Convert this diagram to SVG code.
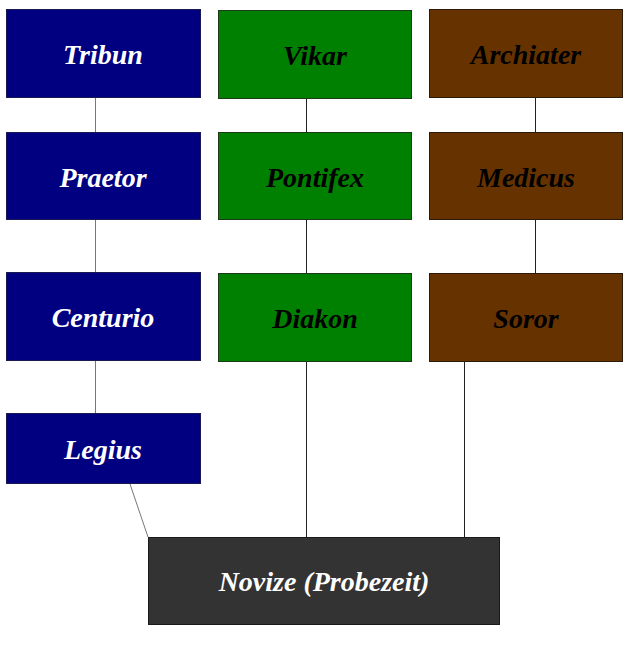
<svg xmlns="http://www.w3.org/2000/svg" width="633" height="649" viewBox="0 0 633 649">
<style>
.blue{fill:#000080;stroke:#1a1a50;stroke-width:1}
.green{fill:#008000;stroke:#1a3a1a;stroke-width:1}
.brown{fill:#663300;stroke:#2a1a0a;stroke-width:1}
.dark{fill:#333333;stroke:#1a1a1a;stroke-width:1}
text{font-family:"Liberation Serif","DejaVu Serif",serif;font-style:italic;font-weight:bold;font-size:28px;text-anchor:middle}
.w{fill:#ffffff}
.k{fill:#000000}
.conn line{stroke:#222;stroke-width:1}
.conn line.g{stroke:#777}
</style>
<rect width="633" height="649" fill="#ffffff"/>
<g id="connectors" class="conn">
<line class="g" x1="95.5" y1="98" x2="95.5" y2="132"/>
<line class="g" x1="95.5" y1="219" x2="95.5" y2="272"/>
<line class="g" x1="95.5" y1="361" x2="95.5" y2="413"/>
<line class="g" x1="130" y1="484" x2="148" y2="537"/>
<line x1="306.5" y1="98" x2="306.5" y2="132"/>
<line x1="306.5" y1="219" x2="306.5" y2="273"/>
<line x1="306.5" y1="361" x2="306.5" y2="537"/>
<line x1="535.5" y1="97" x2="535.5" y2="132"/>
<line x1="535.5" y1="219" x2="535.5" y2="273"/>
<line x1="464.5" y1="361" x2="464.5" y2="537"/>
</g>
<g id="tribun"><rect class="blue" x="6.5" y="9.5" width="194" height="88"/><text class="w" x="103" y="64">Tribun</text></g>
<g id="praetor"><rect class="blue" x="6.5" y="132.5" width="194" height="87"/><text class="w" x="103" y="187">Praetor</text></g>
<g id="centurio"><rect class="blue" x="6.5" y="272.5" width="194" height="88"/><text class="w" x="103" y="327">Centurio</text></g>
<g id="legius"><rect class="blue" x="6.5" y="413.5" width="194" height="70"/><text class="w" x="103" y="459">Legius</text></g>
<g id="vikar"><rect class="green" x="218.5" y="10.5" width="193" height="88"/><text class="k" x="315" y="65">Vikar</text></g>
<g id="pontifex"><rect class="green" x="218.5" y="132.5" width="193" height="87"/><text class="k" x="315" y="187">Pontifex</text></g>
<g id="diakon"><rect class="green" x="218.5" y="273.5" width="193" height="88"/><text class="k" x="315" y="328">Diakon</text></g>
<g id="archiater"><rect class="brown" x="429.5" y="9.5" width="193" height="88"/><text class="k" x="526" y="64">Archiater</text></g>
<g id="medicus"><rect class="brown" x="429.5" y="132.5" width="193" height="87"/><text class="k" x="526" y="187">Medicus</text></g>
<g id="soror"><rect class="brown" x="429.5" y="273.5" width="193" height="88"/><text class="k" x="526" y="328">Soror</text></g>
<g id="novize"><rect class="dark" x="148.5" y="537.5" width="351" height="87"/><text class="w" x="324" y="591">Novize (Probezeit)</text></g>
</svg>
